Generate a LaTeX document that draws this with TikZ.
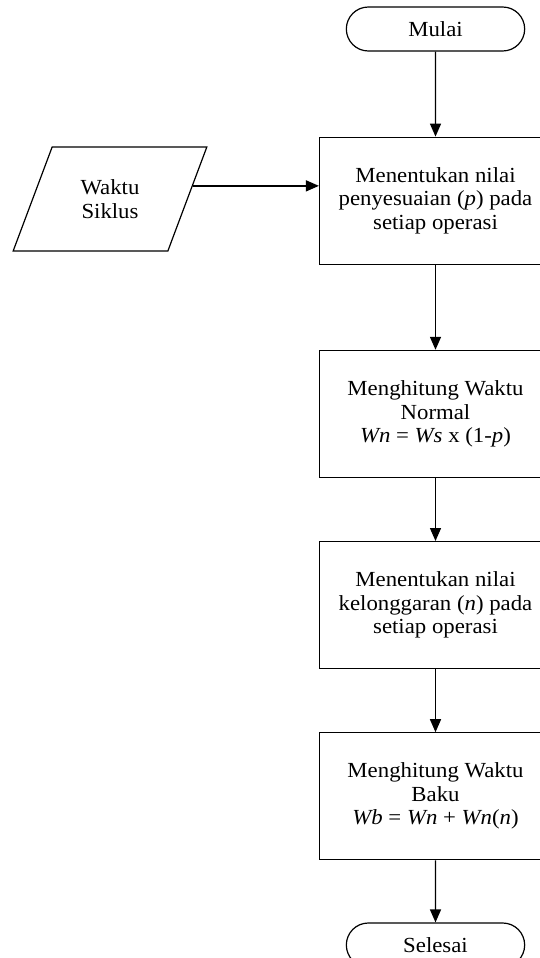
\documentclass[tikz,border=0pt]{standalone}
\usepackage{fontspec}
\setmainfont[FakeStretch=1.06]{Liberation Serif}
\usetikzlibrary{positioning,shapes.geometric,shapes.misc,arrows.meta}
\tikzstyle{terminal}=[draw=black, shape=rounded rectangle, line width=1.2pt, minimum width=185pt, minimum height=44pt]
\tikzstyle{process}=[draw=black, shape=rectangle, line width=1.2pt, minimum width=232pt, minimum height=127pt, align=center]
\tikzstyle{data}=[draw=black, shape=trapezium, trapezium left angle=64, trapezium right angle=116, trapezium stretches=true, line width=1.2pt, minimum width=194pt, minimum height=104pt, align=center]
\tikzstyle{arrow}=[line width=1.4pt, -{Triangle[length=13pt,width=11pt]}]

\begin{document}
\begin{tikzpicture}[x=1pt, y=1pt, font=\fontsize{21.5}{23.5}\selectfont]
            \useasboundingbox (0,0) rectangle (539,-958);
            \node[terminal] (mulai) at (435.5,-29) {Mulai};
            \node[process, below=85pt of mulai] (nilaip) {Menentukan nilai\\penyesuaian (\textit{p}) pada\\setiap operasi};
            \node[process, below=85pt of nilaip] (normal) {Menghitung Waktu\\Normal\\\textit{Wn} = \textit{Ws} x (1-\textit{p})};
            \node[process, below=63pt of normal] (nilain) {Menentukan nilai\\kelonggaran (\textit{n}) pada\\setiap operasi};
            \node[process, below=63pt of nilain] (baku) {Menghitung Waktu\\Baku\\\textit{Wb} = \textit{Wn} + \textit{Wn}(\textit{n})};
            \node[terminal, below=62pt of baku] (selesai) {Selesai};
            \node[data] (siklus) at (110,-199) {Waktu\\Siklus};
            \draw[arrow] (mulai) -- (nilaip);
            \draw[arrow] (nilaip) -- (normal);
            \draw[arrow] (normal) -- (nilain);
            \draw[arrow] (nilain) -- (baku);
            \draw[arrow] (baku) -- (selesai);
            \draw[arrow] (siklus.9) -- (siklus.9 -| nilaip.west);
        \end{tikzpicture}
\end{document}
